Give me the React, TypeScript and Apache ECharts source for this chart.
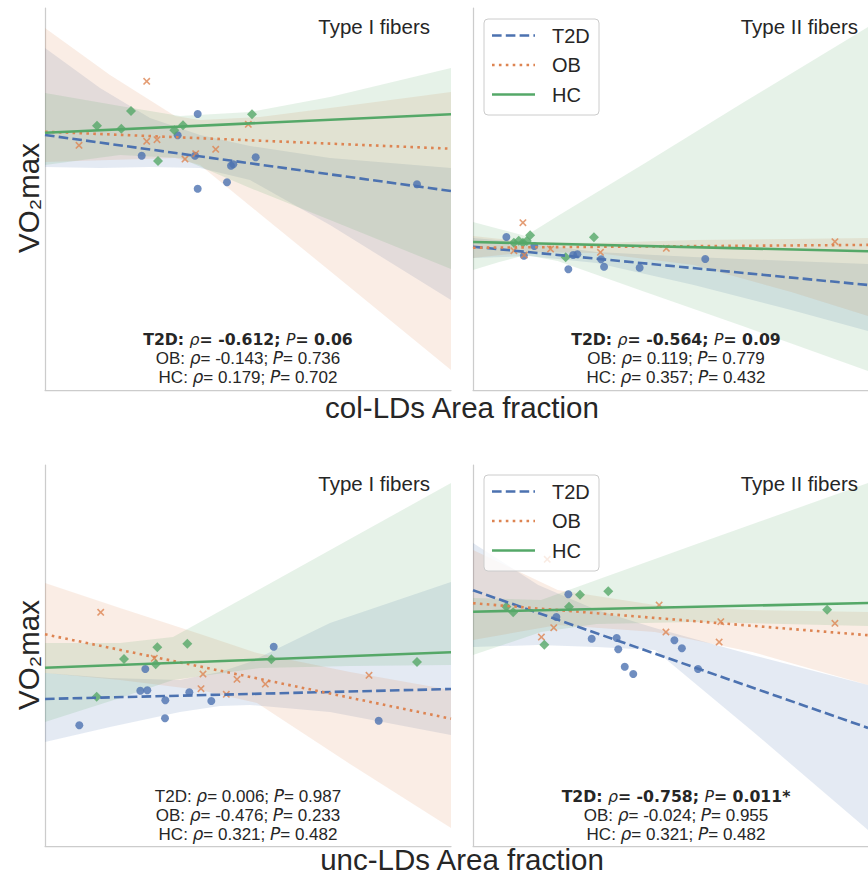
import React, { useEffect, useRef } from 'react';
import * as echarts from 'echarts';

// ---------- labels ----------
const GROUPS = ['T2D', 'OB', 'HC'];
const X_LABELS = ['col-LDs Area fraction', 'unc-LDs Area fraction'];
const Y_LABEL = 'VO₂max';
const PANEL_TITLES = ['Type I fibers', 'Type II fibers', 'Type I fibers', 'Type II fibers'];

// ---------- data (axis units) ----------
// Panel 1: col-LDs, Type I fibers
const p1T2D = [[197.7, 114], [141.7, 155.7], [177.7, 135.3], [195, 155.7], [197.7, 188.7], [227, 182.3], [231, 165.7], [233.3, 164.3], [255.7, 157.3], [417, 184.3]];
const p1OB = [[146.7, 81.3], [79, 145.3], [146.7, 141.3], [157, 139.7], [185, 159], [195.7, 153.7], [215.7, 149.3], [248.3, 124.3]];
const p1HC = [[97, 125.7], [131, 111], [121.3, 128.7], [158, 161], [174.3, 130.3], [183, 125.3], [252, 114.3]];
const p1FitT2D = [[45, 135], [451, 191]];
const p1FitOB = [[45, 131.7], [451, 148.7]];
const p1FitHC = [[45, 132.7], [451, 114.3]];
const p1CiT2D = [[45, 48, 167], [100, 88, 168], [150, 118, 167], [200, 135, 168], [250, 146, 180], [330, 158, 225], [451, 168, 300]];
const p1CiOB = [[45, 28, 162], [110, 75, 160], [175, 116, 158], [200, 120, 165], [260, 117, 214], [330, 108, 271], [451, 92, 370]];
const p1CiHC = [[45, 93, 165], [120, 106, 155], [180, 116, 158], [250, 112, 188], [330, 97, 220], [451, 68, 269]];
const p1Stats = [['T2D', '-0.612', '0.06', 1], ['OB', '-0.143', '0.736', 0], ['HC', '0.179', '0.702', 0]];

// Panel 2: col-LDs, Type II fibers
const p2T2D = [[507.3, 237], [525.3, 255.7], [536, 246], [571, 269.3], [576, 255], [580.3, 254.3], [604.7, 259.3], [607.7, 266.7], [644.3, 267.7], [711.7, 259]];
const p2OB = [[524.3, 222.7], [515, 250.7], [525.7, 255], [552.7, 249], [604, 252.3], [671.7, 248.3], [845, 241.7]];
const p2HC = [[515, 242.7], [520, 240.7], [524.3, 242.7], [528.3, 241], [531.7, 235.3], [568.3, 257.3], [597.3, 237.3]];
const p2FitT2D = [[473, 246.7], [879, 285]];
const p2FitOB = [[473, 247.7], [879, 244.9]];
const p2FitHC = [[473, 242], [879, 251.3]];
const p2CiT2D = [[473, 238, 258], [530, 243, 256], [600, 252, 263], [700, 257, 285], [800, 261, 310], [879, 264, 331]];
const p2CiOB = [[473, 236, 258], [530, 242, 252], [600, 243, 253], [700, 240, 265], [800, 239, 292], [879, 238, 316]];
const p2CiHC = [[473, 222, 270], [500, 229, 262], [527, 236, 255], [560, 216, 261], [650, 163, 292], [750, 103, 326], [879, 27, 371]];
const p2Stats = [['T2D', '-0.564', '0.09', 1], ['OB', '0.119', '0.779', 0], ['HC', '0.357', '0.432', 0]];

// Panel 3: unc-LDs, Type I fibers
const p3T2D = [[79.3, 725.3], [140.3, 690.7], [147.3, 690.3], [145.3, 669], [165.3, 700.3], [165, 718.3], [189.3, 692.3], [211.3, 701], [273.7, 646.7], [378.7, 720.7]];
const p3OB = [[100.7, 612.3], [154.3, 658.3], [203, 674], [201, 688.7], [226.3, 694.3], [237, 679.3], [265.3, 684], [369, 675.3]];
const p3HC = [[96.7, 696.7], [124, 659], [157.3, 647.3], [155.7, 664.3], [187.3, 643.7], [271.3, 659.3], [417, 662]];
const p3FitT2D = [[45, 699], [451, 689]];
const p3FitOB = [[45, 634.3], [451, 718.7]];
const p3FitHC = [[45, 667.7], [451, 652.3]];
const p3CiT2D = [[45, 673, 742], [110, 678, 727], [180, 680, 712], [220, 672, 706], [250, 662, 705], [330, 623, 712], [451, 582, 735]];
const p3CiOB = [[45, 583, 673], [120, 608, 680], [200, 634, 690], [257, 653, 703], [350, 672, 764], [451, 690, 828]];
const p3CiHC = [[45, 643, 722], [120, 643, 698], [173, 637, 680], [260, 589, 668], [350, 539, 666], [451, 483, 665]];
const p3Stats = [['T2D', '0.006', '0.987', 0], ['OB', '-0.476', '0.233', 0], ['HC', '0.321', '0.482', 0]];

// Panel 4: unc-LDs, Type II fibers
const p4T2D = [[571, 594.3], [558.7, 617], [595, 638.7], [620.7, 638], [622.3, 649.3], [629, 666.7], [637.7, 674], [680, 640.3], [687.7, 648.3], [704.3, 669]];
const p4OB = [[549.3, 559.3], [556, 627.7], [543.3, 637], [664.3, 605], [671.3, 632], [727.7, 621.7], [726, 642], [845, 623.3]];
const p4HC = [[507.3, 606.7], [514.3, 612.3], [546.3, 644.7], [571.7, 606.7], [583, 594.7], [612, 591.3], [837, 609.7]];
const p4FitT2D = [[473, 590.2], [879, 727.9]];
const p4FitOB = [[473, 603.2], [879, 635.2]];
const p4FitHC = [[473, 611.7], [879, 603.0]];
const p4CiT2D = [[473, 543, 647], [540, 585, 645], [600, 610, 647], [660, 628, 650], [760, 655, 731], [879, 685, 830]];
const p4CiOB = [[473, 550, 640], [560, 590, 625], [660, 605, 632], [760, 610, 652], [879, 612, 685]];
const p4CiHC = [[473, 598, 655], [543, 600, 632], [600, 580, 624], [700, 545, 622], [879, 483, 626]];
const p4Stats = [['T2D', '-0.758', '0.011*', 1], ['OB', '-0.024', '0.955', 0], ['HC', '0.321', '0.482', 0]];

// ---------- styles ----------
const COLORS = ['#4C72B0', '#DD8452', '#55A868'];
const BAND_FILL = ['rgba(76,114,176,0.15)', 'rgba(221,132,82,0.15)', 'rgba(85,168,104,0.15)'];
const DASHES: any[] = [[9.6, 4.2], [2.6, 4.3], 'solid'];
const LEGEND_DASH: any[] = [[9.6, 4.2], [2.6, 4.3], null];
const X_MARK = 'path://M0,1.5L1.5,0L5,3.5L8.5,0L10,1.5L6.5,5L10,8.5L8.5,10L5,6.5L1.5,10L0,8.5L3.5,5Z';
const SYMBOLS = ['circle', X_MARK, 'diamond'];
const SYMBOL_SIZES = [8, 7.5, 10];
const TEXT = '#262626';
const SANS = '"Liberation Sans", Arial, Helvetica, sans-serif';
const MATH = '"DejaVu Sans", sans-serif';
const SPINE = '#cccccc';
const STAT_FS = 17;
const BOLD_FS = 15.7;
const LABEL_FS = 29.5;

const PANELS = [
  { grid: { left: 45, top: 8, width: 406, height: 382 }, x: [45, 451], y: [8, 390], pts: [p1T2D, p1OB, p1HC], fits: [p1FitT2D, p1FitOB, p1FitHC], cis: [p1CiT2D, p1CiOB, p1CiHC], stats: p1Stats },
  { grid: { left: 473, top: 8, width: 406, height: 382 }, x: [473, 879], y: [8, 390], pts: [p2T2D, p2OB, p2HC], fits: [p2FitT2D, p2FitOB, p2FitHC], cis: [p2CiT2D, p2CiOB, p2CiHC], stats: p2Stats },
  { grid: { left: 45, top: 465, width: 406, height: 381 }, x: [45, 451], y: [465, 846], pts: [p3T2D, p3OB, p3HC], fits: [p3FitT2D, p3FitOB, p3FitHC], cis: [p3CiT2D, p3CiOB, p3CiHC], stats: p3Stats },
  { grid: { left: 473, top: 465, width: 406, height: 381 }, x: [473, 879], y: [465, 846], pts: [p4T2D, p4OB, p4HC], fits: [p4FitT2D, p4FitOB, p4FitHC], cis: [p4CiT2D, p4CiOB, p4CiHC], stats: p4Stats },
];

function bandSeries(i: number, ci: number[][], fill: string) {
  return {
    type: 'custom',
    xAxisIndex: i,
    yAxisIndex: i,
    silent: true,
    clip: true,
    data: ci,
    encode: { x: 0, y: [1, 2] },
    renderItem: (params: any, api: any) => {
      if (params.dataIndex !== 0) return null;
      const upper = ci.map((d) => api.coord([d[0], d[1]]));
      const lower = ci.map((d) => api.coord([d[0], d[2]])).reverse();
      return {
        type: 'polygon',
        shape: { points: upper.concat(lower), smooth: 0 },
        style: { fill, stroke: 'none' },
      };
    },
  };
}

function statText(row: any[]) {
  const [g, rho, p, bold] = row;
  const n = bold ? 'b' : 'n';
  const it = bold ? 'bi' : 'i';
  return `{${n}|${g}: }{${it}|ρ}{${n}|= ${rho}; }{${it}|P}{${n}|= ${p}}`;
}

const RICH = {
  n: { fontSize: STAT_FS, fontFamily: SANS, fill: TEXT },
  b: { fontSize: BOLD_FS, fontFamily: MATH, fill: TEXT, fontWeight: 'bold' },
  i: { fontSize: STAT_FS, fontFamily: MATH, fill: TEXT, fontStyle: 'italic' },
  bi: { fontSize: BOLD_FS, fontFamily: MATH, fill: TEXT, fontStyle: 'italic' },
};

function legendGroup(x: number, y: number) {
  const children: any[] = [
    { type: 'rect', z: 100, shape: { x: 0, y: 0, width: 115, height: 96, r: 4 }, style: { fill: 'rgba(255,255,255,0.8)', stroke: SPINE, lineWidth: 1 } },
  ];
  GROUPS.forEach((g, k) => {
    const cy = 16.5 + k * 29.5;
    children.push({ type: 'line', z: 101, shape: { x1: 8, y1: cy, x2: 51, y2: cy }, style: { stroke: COLORS[k], lineWidth: 2.6, lineDash: LEGEND_DASH[k] } });
    children.push({ type: 'text', z: 101, x: 68, y: cy, style: { text: g, fontSize: 20, fontFamily: SANS, fill: TEXT, verticalAlign: 'middle', align: 'left' } });
  });
  return { type: 'group', x, y, z: 100, children };
}

function buildOption() {
  const grid: any[] = [];
  const xAxis: any[] = [];
  const yAxis: any[] = [];
  const series: any[] = [];
  const graphic: any[] = [];

  PANELS.forEach((pn, i) => {
    grid.push({ ...pn.grid, containLabel: false });
    const axisCommon = {
      type: 'value',
      gridIndex: i,
      axisLine: { show: true, onZero: false, lineStyle: { color: SPINE, width: 1.25 } },
      axisTick: { show: false },
      axisLabel: { show: false },
      splitLine: { show: false },
    };
    xAxis.push({ ...axisCommon, min: pn.x[0], max: pn.x[1] });
    yAxis.push({ ...axisCommon, min: pn.y[0], max: pn.y[1], inverse: true });

    for (let k = 0; k < 3; k++) {
      series.push({
        type: 'scatter',
        name: GROUPS[k],
        xAxisIndex: i,
        yAxisIndex: i,
        data: pn.pts[k],
        symbol: SYMBOLS[k],
        symbolSize: SYMBOL_SIZES[k],
        symbolKeepAspect: true,
        itemStyle: { color: COLORS[k], opacity: 0.8 },
        silent: true,
      });
      series.push(bandSeries(i, pn.cis[k], BAND_FILL[k]));
      series.push({
        type: 'line',
        name: GROUPS[k],
        xAxisIndex: i,
        yAxisIndex: i,
        data: pn.fits[k],
        symbol: 'none',
        silent: true,
        clip: true,
        lineStyle: { color: COLORS[k], width: 2.6, type: DASHES[k], cap: 'butt' },
      });
    }

    const right = pn.grid.left + pn.grid.width;
    const cx = pn.grid.left + pn.grid.width / 2;
    const top = pn.grid.top;
    graphic.push({
      type: 'text', z: 50, x: right - 21, y: top + 18,
      style: { text: PANEL_TITLES[i], fontSize: 20.5, fontFamily: SANS, fill: TEXT, align: 'right', verticalAlign: 'middle' },
    });
    pn.stats.forEach((row, r) => {
      graphic.push({
        type: 'text', z: 50, x: cx, y: top + 331 + r * 19,
        style: { text: statText(row), rich: RICH, align: 'center', verticalAlign: 'middle', fontSize: STAT_FS, fontFamily: SANS, fill: TEXT },
      });
    });
  });

  graphic.push(legendGroup(484, 19));
  graphic.push(legendGroup(484, 475));

  // axis labels
  graphic.push({ type: 'text', z: 50, x: 462, y: 407, style: { text: X_LABELS[0], fontSize: LABEL_FS, fontFamily: SANS, fill: TEXT, align: 'center', verticalAlign: 'middle' } });
  graphic.push({ type: 'text', z: 50, x: 462, y: 859, style: { text: X_LABELS[1], fontSize: LABEL_FS, fontFamily: SANS, fill: TEXT, align: 'center', verticalAlign: 'middle' } });
  graphic.push({ type: 'text', z: 50, x: 28, y: 198, rotation: Math.PI / 2, style: { text: Y_LABEL, fontSize: LABEL_FS, fontFamily: SANS, fill: TEXT, align: 'center', verticalAlign: 'middle' } });
  graphic.push({ type: 'text', z: 50, x: 28, y: 655, rotation: Math.PI / 2, style: { text: Y_LABEL, fontSize: LABEL_FS, fontFamily: SANS, fill: TEXT, align: 'center', verticalAlign: 'middle' } });

  return {
    animation: false,
    backgroundColor: '#ffffff',
    grid,
    xAxis,
    yAxis,
    series,
    graphic,
  };
}

export default function App() {
  const ref = useRef<HTMLDivElement>(null);
  useEffect(() => {
    if (!ref.current) return;
    const chart = echarts.init(ref.current, null, { renderer: 'svg' });
    chart.setOption(buildOption() as any);
    return () => chart.dispose();
  }, []);
  return <div ref={ref} style={{ position: 'absolute', left: 0, top: 0, width: 868, height: 874 }} />;
}
